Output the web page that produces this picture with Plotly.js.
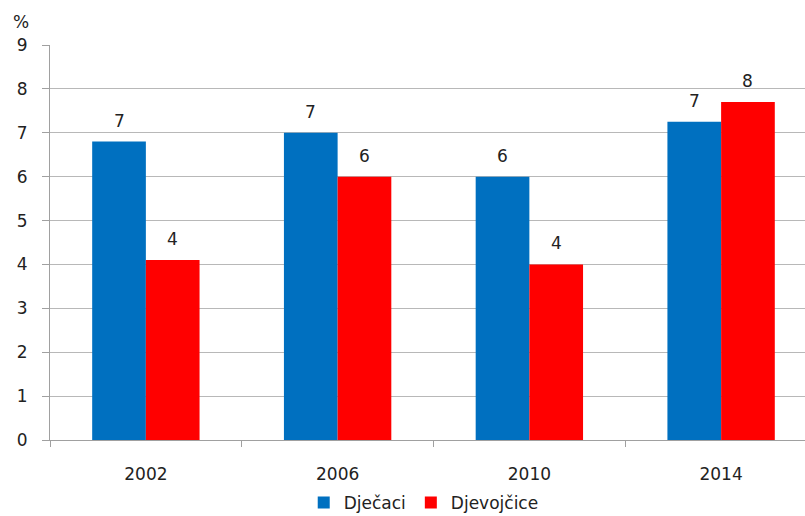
<!DOCTYPE html>
<html><head><meta charset="utf-8">
<script src="https://cdn.plot.ly/plotly-3.0.1.min.js"></script>
<style>body{margin:0;padding:0;background:#fff}#chart{width:805px;height:516px}</style>
</head><body><div id="chart"></div>
<script>
var years = ['2002', '2006', '2010', '2014'];
var djecaci = [6.8, 7.0, 6.0, 7.25];
var djevojcice = [4.1, 6.0, 4.0, 7.7];
var yTicks = [0, 1, 2, 3, 4, 5, 6, 7, 8, 9];

var font = {family: 'DejaVu Sans, Verdana, sans-serif', size: 17, color: '#222'};
var bargap = 0.44;
var off = (1 - bargap) / 4;

var traces = [
  {type: 'bar', name: 'Dječaci', x: years, y: djecaci,
   marker: {color: '#0070C0'}, hoverinfo: 'none'},
  {type: 'bar', name: 'Djevojčice', x: years, y: djevojcice,
   marker: {color: '#FF0000'}, hoverinfo: 'none'}
];

var annotations = [];
years.forEach(function(yr, i){
  annotations.push({x: i - off, y: djecaci[i], xref: 'x', yref: 'y', text: String(Math.round(djecaci[i])),
    showarrow: false, yanchor: 'middle', yshift: 21, font: font});
  annotations.push({x: i + off, y: djevojcice[i], xref: 'x', yref: 'y', text: String(Math.round(djevojcice[i])),
    showarrow: false, yanchor: 'middle', yshift: 21, font: font});
});
annotations.push({text: '%', xref: 'paper', yref: 'paper', x: -0.038, y: 1.058,
                  xanchor: 'center', yanchor: 'middle', showarrow: false, font: font});

var layout = {
  width: 805, height: 516,
  margin: {l: 50, r: 0, t: 45, b: 76, autoexpand: false},
  paper_bgcolor: '#fff', plot_bgcolor: '#fff',
  font: font,
  barmode: 'group', bargap: bargap, bargroupgap: 0,
  showlegend: true,
  legend: {orientation: 'h', xref: 'paper', x: 0.495, xanchor: 'center',
           yref: 'container', y: 1 - 503 / 516, yanchor: 'middle',
           font: font, itemwidth: 30, traceorder: 'normal'},
  xaxis: {type: 'category', range: [-0.5, 3.4375], showline: true, linecolor: '#a0a0a0', linewidth: 1,
          ticks: 'outside', tickson: 'boundaries', ticklen: 6, tickcolor: '#a0a0a0',
          showgrid: false, tickfont: font, ticklabelstandoff: 19},
  yaxis: {range: [0, 9], tickvals: yTicks, ticktext: yTicks.map(String),
          showline: true, linecolor: '#a0a0a0', linewidth: 1,
          ticks: 'outside', ticklen: 7, tickcolor: '#a0a0a0',
          showgrid: true, gridcolor: '#b8b8b8', gridwidth: 1, zeroline: false,
          tickfont: font, ticklabelstandoff: 11},
  annotations: annotations
};

Plotly.newPlot('chart', traces, layout, {staticPlot: true, displayModeBar: false});
</script></body></html>
